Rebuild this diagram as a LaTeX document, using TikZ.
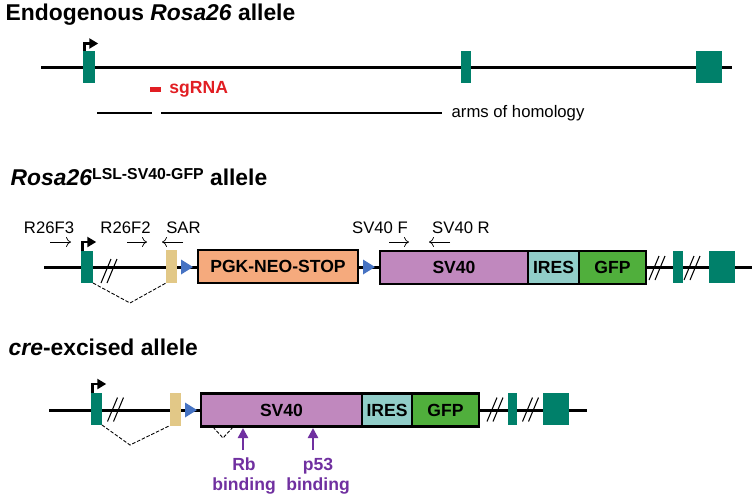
\documentclass[tikz,border=0pt]{standalone}
\usepackage{fontspec}
\setmainfont{Liberation Sans}
\usetikzlibrary{positioning}
\usetikzlibrary{arrows.meta}

\definecolor{exongreen}{RGB}{0,128,106}
\definecolor{sartan}{RGB}{226,200,135}
\definecolor{loxblue}{RGB}{70,115,195}
\definecolor{pgkorange}{RGB}{245,170,125}
\definecolor{svpurple}{RGB}{192,136,190}
\definecolor{iresteal}{RGB}{145,205,200}
\definecolor{gfpgreen}{RGB}{80,175,60}
\definecolor{sgred}{RGB}{225,30,35}
\definecolor{bindpurple}{RGB}{112,48,160}

\begin{document}
\begin{tikzpicture}[x=0.2mm, y=-0.2mm, thick,
  dna/.style={line width=1.7pt},
  arm/.style={line width=1.1pt},
  exon/.style={fill=exongreen, inner sep=0, outer sep=0, minimum height=6.4mm},
  sarbox/.style={fill=sartan, inner sep=0, outer sep=0, minimum width=2.2mm, minimum height=6.6mm},
  part/.style={draw=black, line width=1.5pt, inner sep=0, outer sep=0, minimum height=6.6mm, font=\fontsize{10}{12}\selectfont\bfseries},
  prom/.style={line width=1.5pt, -{Triangle[length=1.8mm,width=2mm]}},
  primer/.style={line width=0.4pt, -{To[length=1mm,width=2mm]}},
  splice/.style={line width=0.5pt, dash pattern=on 2pt off 1pt},
  bind/.style={bindpurple, line width=1.4pt, -{Triangle[length=2mm,width=2mm]}},
  lbl/.style={inner sep=0, font=\fontsize{9.5}{11}\selectfont},
  ttl/.style={inner sep=0, anchor=base west, font=\fontsize{13}{15}\selectfont\bfseries},
  lox/.pic={\fill[loxblue] (-6,-7.5) -- (6,0) -- (-6,7.5) -- cycle;},
  brk/.pic={\draw[line width=0.6pt] (-8,12) -- (2,-12) (-2,12) -- (8,-12);}]

\useasboundingbox (0,0) rectangle (755,498);

% endogenous allele
\node [ttl] (t1) at (5,20) {Endogenous \textit{Rosa26} allele};
\coordinate (l1a) at (41,67);
\coordinate (l1b) at (732,67);
\draw [dna] (l1a) -- (l1b);
\node [exon, minimum width=2.4mm] (a1) at (89,66.5) {};
\node [exon, minimum width=2mm] (a2) at (466,67) {};
\node [exon, minimum width=5.2mm] (a3) at (709,67) {};
\draw [prom] ([xshift=0.25mm]a1.north west) |- ++(14,-7);

\node [fill=sgred, inner sep=0, minimum width=2.2mm, minimum height=1mm] (sg) at (155.5,89.5) {};
\node [lbl, right=1.4mm of sg, text=sgred, font=\fontsize{10}{12}\selectfont\bfseries] (sgt) {sgRNA};
\coordinate (h1) at (97,113);
\coordinate (h2) at (152,113);
\coordinate (h3) at (161,113);
\coordinate (h4) at (442,113);
\draw [arm] (h1) -- (h2);
\draw [arm] (h3) -- (h4);
\node [lbl, right=1.8mm of h4] (ht) {arms of homology};

% LSL allele
\node [ttl] (t2) at (10,185) {\textit{Rosa26}\raisebox{3.4pt}{\fontsize{9}{10}\selectfont LSL-SV40-GFP} allele};
\coordinate (l2a) at (44,267);
\coordinate (l2b) at (752,267);
\draw [dna] (l2a) -- (l2b);
\node [exon, minimum width=2.4mm] (b1) at (87,267) {};
\draw [prom] ([xshift=0.25mm]b1.north west) |- ++(14,-9);
\pic at (109,271) {brk};
\node [sarbox] (bs) at (171.5,266.5) {};
\pic at (187,267) {lox};
\node [part, fill=pgkorange, minimum width=32mm] (pgk) at (278,266.5) {PGK-NEO-STOP};
\pic at (369,267) {lox};
\node [part, fill=svpurple, minimum width=29.6mm] (bsv) at (454,267.5) {SV40};
\node [part, fill=iresteal, minimum width=10.2mm, right=0mm of bsv] (bires) {IRES};
\node [part, fill=gfpgreen, minimum width=13.4mm, right=0mm of bires] (bgfp) {GFP};
\pic at (657,268) {brk};
\node [exon, minimum width=2mm] (b2) at (678,267) {};
\pic at (692,268) {brk};
\node [exon, minimum width=5.2mm] (b3) at (722,267) {};
\draw [splice] (b1.south east) -- (130,303) -- (bs.south west);

\node [lbl] (p1) at (49,228) {R26F3};
\node [lbl] (p2) at (125.5,228) {R26F2};
\node [lbl] (p3) at (183.5,228) {SAR};
\node [lbl] (p4) at (380,228) {SV40 F};
\node [lbl] (p5) at (461,228) {SV40 R};
\draw [primer] (50,242) -- (71,242);
\draw [primer] (127,242) -- (147,242);
\draw [primer] (183,242) -- (162,242);
\draw [primer] (389,242) -- (409,242);
\draw [primer] (450,242) -- (429,242);

% cre-excised allele
\node [ttl] (t3) at (8,355) {\textit{cre}-excised allele};
\coordinate (l3a) at (49,410);
\coordinate (l3b) at (587,410);
\draw [dna] (l3a) -- (l3b);
\node [exon, minimum width=2.2mm] (c1) at (96.5,409) {};
\draw [prom] ([xshift=0.25mm]c1.north west) |- ++(14,-9);
\pic at (115.5,409.5) {brk};
\node [sarbox] (cs) at (175.5,409) {};
\pic at (191,410) {lox};
\node [part, fill=svpurple, minimum width=32.2mm] (csv) at (281.5,410) {SV40};
\node [part, fill=iresteal, minimum width=10mm, right=0mm of csv] (cires) {IRES};
\node [part, fill=gfpgreen, minimum width=13.4mm, right=0mm of cires] (cgfp) {GFP};
\pic at (495,409.5) {brk};
\node [exon, minimum width=1.8mm] (c2) at (512.5,409) {};
\pic at (530.5,409.5) {brk};
\node [exon, minimum width=5.2mm] (c3) at (556,409) {};
\draw [splice] (c1.south east) -- (130,445) -- (cs.south west);
\draw [splice] (213,427) -- (223,438) -- (233,427);

\node [lbl, text=bindpurple, align=center, font=\fontsize{10}{11.3}\selectfont\bfseries] (rb) at (244,476) {Rb\\binding};
\node [lbl, text=bindpurple, align=center, font=\fontsize{10}{11.3}\selectfont\bfseries] (pb) at (318,476) {p53\\binding};
\draw [bind] (243,450) -- (243,428);
\draw [bind] (313,450) -- (313,428);

\end{tikzpicture}
\end{document}
